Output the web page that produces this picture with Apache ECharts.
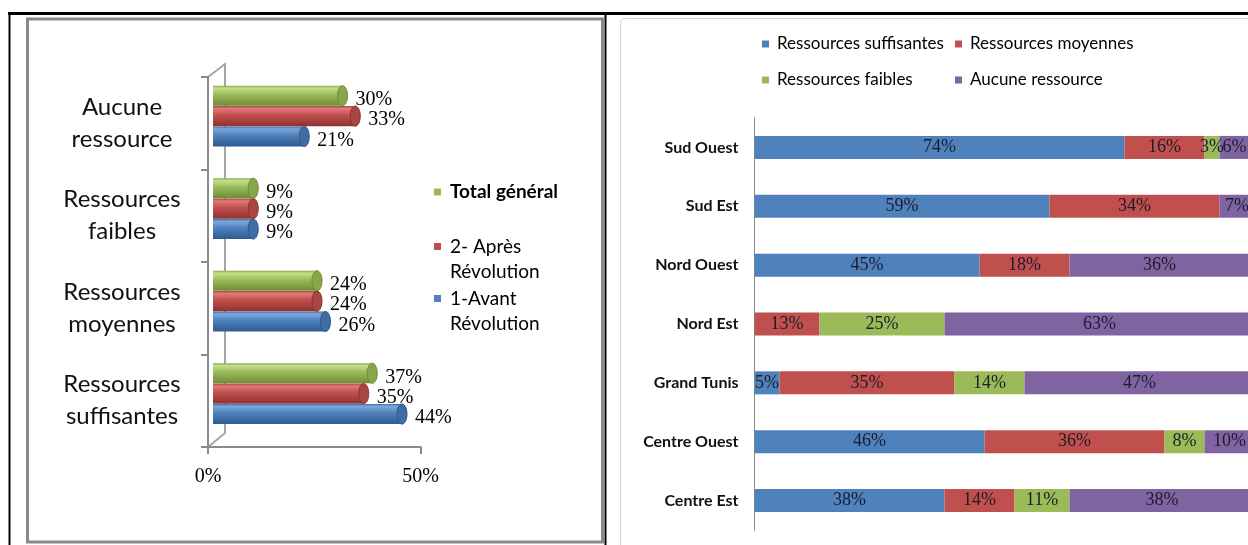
<!DOCTYPE html>
<html>

<head>
	<meta charset="utf-8">
	<title>Ressources</title>
	<script src="https://cdn.jsdelivr.net/npm/echarts@6/dist/echarts.min.js"></script>
	<style>
		html, body { margin: 0; padding: 0; background: #fff; }
	</style>
</head>

<body>
	<div id="main" style="width: 1248px;height:545px;"></div>

	<script type="text/javascript">
		// left chart : resources before / after the revolution (bottom to top)
		var leftCategories = ['Ressources\nsuffisantes', 'Ressources\nmoyennes', 'Ressources\nfaibles', 'Aucune\nressource'];
		var avantRevolution = [44, 26, 9, 21];
		var apresRevolution = [35, 24, 9, 33];
		var totalGeneral = [37, 24, 9, 30];
		var leftTicks = [0, 50];

		// right chart : resources by region (top to bottom)
		var regions = ['Sud Ouest', 'Sud Est', 'Nord Ouest', 'Nord Est', 'Grand Tunis', 'Centre Ouest', 'Centre Est'];
		var suffisantes = [74, 59, 45, 0, 5, 46, 38];
		var moyennes = [16, 34, 18, 13, 35, 36, 14];
		var faibles = [3, 0, 0, 25, 14, 8, 11];
		var aucune = [6, 7, 36, 63, 47, 10, 38];

		var sans = 'Lato, "Noto Sans", sans-serif';
		var serif = '"Liberation Serif", "DejaVu Serif", serif';
		var colors = {
			blue: ['#7ea8dc', '#4f81bd', '#2f5a8c', '#3e6ca3'],
			red: ['#e07a77', '#c0504d', '#8e3230', '#a94542'],
			green: ['#c3e08a', '#9bbb59', '#6e8c34', '#87a64a'],
			purple: '#8064a2'
		};

		var myChart = echarts.init(document.getElementById('main'));

		// 3D-looking cylinder bar, slot 0 = bottom bar of the band
		function cylinder(c, slot) {
			return function (params, api) {
				var cat = api.value(1);
				var base = api.coord([0, cat]);
				var tip = api.coord([api.value(0), cat]);
				var band = api.size([0, 1])[1];
				var h = band * 0.218;
				var cy = base[1] - band * 0.077 + (1 - slot) * h * 1.01;
				var x0 = base[0] + 5;
				var x1 = tip[0] + 7;
				return {
					type: 'group',
					children: [{
						type: 'rect',
						shape: { x: x0, y: cy - h / 2, width: x1 - x0, height: h },
						style: {
							fill: {
								type: 'linear', x: 0, y: 0, x2: 0, y2: 1,
								colorStops: [
									{ offset: 0, color: c[3] },
									{ offset: 0.12, color: c[0] },
									{ offset: 0.45, color: c[1] },
									{ offset: 1, color: c[2] }
								]
							}
						}
					}, {
						type: 'ellipse',
						shape: { cx: x1, cy: cy, rx: 5, ry: h / 2 },
						style: { fill: c[3], stroke: c[2], lineWidth: 1 }
					}, {
						type: 'text',
						x: x1 + 13,
						y: cy + 4,
						style: {
							text: api.value(0) + '%',
							font: '20px ' + serif,
							fill: '#000',
							verticalAlign: 'middle'
						}
					}]
				};
			};
		}

		function pairs(arr) {
			return arr.map(function (v, i) { return [v, i]; });
		}

		function pct(p) {
			return p.value ? p.value + '%' : '';
		}

		// blank first line so that the icon sits on the first text line
		function firstLine(name) {
			return '\n' + name;
		}

		var barLabel = {
			show: true,
			position: 'inside',
			formatter: pct,
			fontFamily: serif,
			fontSize: 18,
			color: '#1c1c2c'
		};

		option = {
			animation: false,
			graphic: [
				{ type: 'rect', z: 0, shape: { x: 27.5, y: 19, width: 575, height: 523 }, style: { fill: 'none', stroke: '#898989', lineWidth: 3 } },
				{ type: 'rect', z: 0, shape: { x: 620.5, y: 18.5, width: 640, height: 540, r: 4 }, style: { fill: 'none', stroke: '#d4d4d4', lineWidth: 1 } },
				{ type: 'line', z: 0, shape: { x1: 8, y1: 13.5, x2: 1248, y2: 13.5 }, style: { stroke: '#000', lineWidth: 3 } },
				{ type: 'line', z: 0, shape: { x1: 9.5, y1: 12, x2: 9.5, y2: 545 }, style: { stroke: '#000', lineWidth: 2 } },
				{ type: 'line', z: 0, shape: { x1: 605.5, y1: 12, x2: 605.5, y2: 545 }, style: { stroke: '#000', lineWidth: 2 } },
				// back wall of the 3D frame
				{ type: 'polyline', z: 0, shape: { points: [[208, 77], [225, 64], [225, 433], [208, 447]] }, style: { fill: 'none', stroke: '#a6a6a6', lineWidth: 2 } }
			],
			legend: [{
				orient: 'vertical', left: 434, top: 180, padding: 0,
				itemWidth: 7, itemHeight: 7, icon: 'rect',
				data: ['Total général'],
				textStyle: { fontFamily: sans, fontSize: 19, fontWeight: 'bold', color: '#000', lineHeight: 24, padding: [0, 0, 0, 4] }
			}, {
				orient: 'vertical', left: 434, top: 209, padding: 0,
				itemWidth: 7, itemHeight: 7, icon: 'rect',
				data: ['2- Après\nRévolution'],
				formatter: firstLine,
				textStyle: { fontFamily: sans, fontSize: 19, color: '#000', lineHeight: 25, padding: [0, 0, 0, 4] }
			}, {
				orient: 'vertical', left: 434, top: 261, padding: 0,
				itemWidth: 7, itemHeight: 7, icon: 'rect',
				data: ['1-Avant\nRévolution'],
				formatter: firstLine,
				textStyle: { fontFamily: sans, fontSize: 19, color: '#000', lineHeight: 25, padding: [0, 0, 0, 4] }
			}, {
				orient: 'vertical', left: 762, top: 34, padding: 0, itemGap: 16,
				itemWidth: 7, itemHeight: 7, icon: 'rect',
				data: ['Ressources suffisantes', 'Ressources faibles'],
				textStyle: { fontFamily: sans, fontSize: 17, color: '#000', lineHeight: 20, padding: [0, 0, 0, 3] }
			}, {
				orient: 'vertical', left: 955, top: 34, padding: 0, itemGap: 16,
				itemWidth: 7, itemHeight: 7, icon: 'rect',
				data: ['Ressources moyennes', 'Aucune ressource'],
				textStyle: { fontFamily: sans, fontSize: 17, color: '#000', lineHeight: 20, padding: [0, 0, 0, 3] }
			}],
			grid: [
				{ left: 208, top: 77, width: 212.5, height: 370, outerBoundsMode: 'none' },
				{ left: 754.5, top: 118, width: 500, height: 412, outerBoundsMode: 'none' }
			],
			xAxis: [{
				gridIndex: 0,
				type: 'value',
				min: leftTicks[0],
				max: leftTicks[1],
				interval: leftTicks[1] - leftTicks[0],
				splitLine: { show: false },
				axisLine: { show: true, lineStyle: { color: '#8a8a8a', width: 2 } },
				axisTick: { show: true, length: 7, lineStyle: { color: '#8a8a8a', width: 2 } },
				axisLabel: { formatter: '{value}%', margin: 20, fontFamily: serif, fontSize: 20, color: '#000' }
			}, {
				gridIndex: 1,
				type: 'value',
				min: 0,
				max: 100,
				show: false
			}],
			yAxis: [{
				gridIndex: 0,
				type: 'category',
				data: leftCategories,
				axisLine: { show: true, lineStyle: { color: '#8a8a8a', width: 2 } },
				axisTick: { show: true, length: 7, lineStyle: { color: '#8a8a8a', width: 2 } },
				axisLabel: { margin: 86, align: 'center', fontFamily: sans, fontSize: 24, lineHeight: 32, color: '#111' }
			}, {
				gridIndex: 1,
				type: 'category',
				inverse: true,
				data: regions,
				axisLine: { show: true, lineStyle: { color: '#8a8a8a', width: 1 } },
				axisTick: { show: false },
				axisLabel: { margin: 16, fontFamily: sans, fontSize: 16, fontWeight: 'bold', color: '#111' }
			}],
			series: [{
				name: '1-Avant\nRévolution',
				type: 'custom',
				xAxisIndex: 0, yAxisIndex: 0,
				itemStyle: { color: colors.blue[1] },
				encode: { x: 0, y: 1 },
				renderItem: cylinder(colors.blue, 0),
				data: pairs(avantRevolution)
			}, {
				name: '2- Après\nRévolution',
				type: 'custom',
				xAxisIndex: 0, yAxisIndex: 0,
				itemStyle: { color: colors.red[1] },
				encode: { x: 0, y: 1 },
				renderItem: cylinder(colors.red, 1),
				data: pairs(apresRevolution)
			}, {
				name: 'Total général',
				type: 'custom',
				xAxisIndex: 0, yAxisIndex: 0,
				itemStyle: { color: colors.green[1] },
				encode: { x: 0, y: 1 },
				renderItem: cylinder(colors.green, 2),
				data: pairs(totalGeneral)
			}, {
				name: 'Ressources suffisantes',
				type: 'bar', stack: 'r', barWidth: 23,
				xAxisIndex: 1, yAxisIndex: 1,
				itemStyle: { color: colors.blue[1] },
				label: barLabel,
				data: suffisantes
			}, {
				name: 'Ressources moyennes',
				type: 'bar', stack: 'r', barWidth: 23,
				xAxisIndex: 1, yAxisIndex: 1,
				itemStyle: { color: colors.red[1] },
				label: barLabel,
				data: moyennes
			}, {
				name: 'Ressources faibles',
				type: 'bar', stack: 'r', barWidth: 23,
				xAxisIndex: 1, yAxisIndex: 1,
				itemStyle: { color: colors.green[1] },
				label: barLabel,
				data: faibles
			}, {
				name: 'Aucune ressource',
				type: 'bar', stack: 'r', barWidth: 23,
				xAxisIndex: 1, yAxisIndex: 1,
				itemStyle: { color: colors.purple },
				label: barLabel,
				data: aucune
			}]
		};

		myChart.setOption(option);
	</script>
</body>

</html>
